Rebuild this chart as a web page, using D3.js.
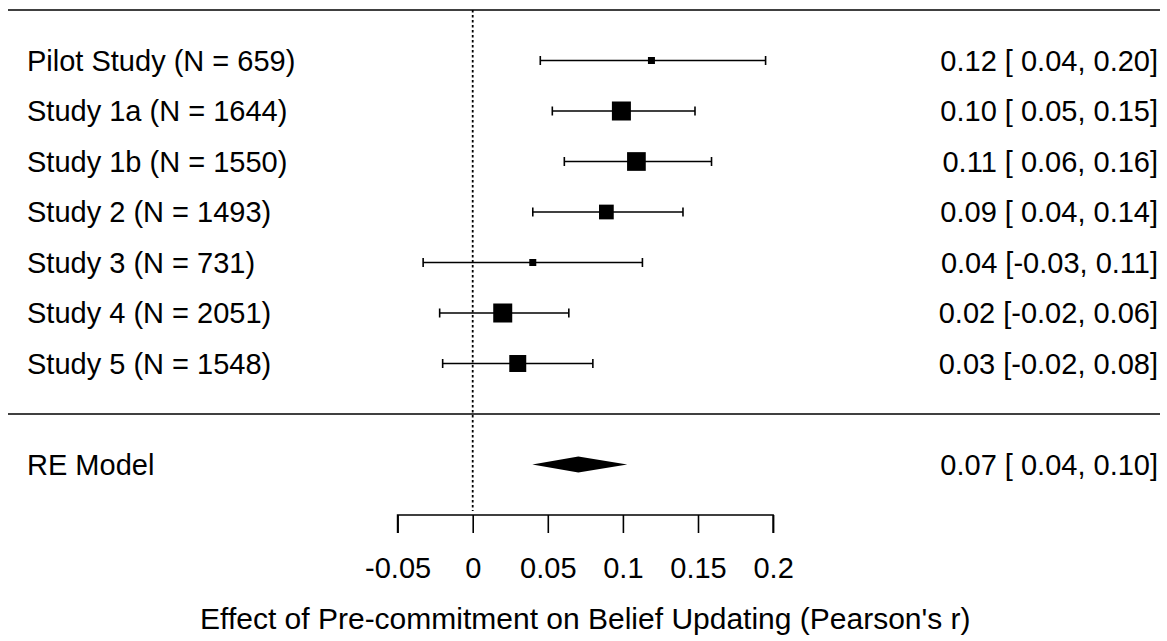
<!DOCTYPE html>
<html><head><meta charset="utf-8">
<script src="https://cdn.jsdelivr.net/npm/d3@7"></script>
<style>html,body{margin:0;padding:0;background:#fff;}text{font-family:"Liberation Sans",Arial,sans-serif;fill:#000;}</style>
</head><body><svg id="c" width="1167" height="641"></svg>
<script>
const studies = ["Pilot Study (N = 659)","Study 1a (N = 1644)","Study 1b (N = 1550)","Study 2 (N = 1493)","Study 3 (N = 731)","Study 4 (N = 2051)","Study 5 (N = 1548)"];
const estimates = [0.119, 0.099, 0.109, 0.089, 0.040, 0.020, 0.030];
const lowerCI = [0.045, 0.053, 0.061, 0.040, -0.033, -0.022, -0.020];
const upperCI = [0.195, 0.148, 0.159, 0.140, 0.113, 0.064, 0.080];
const weights = [6.8, 18.6, 18.3, 14.4, 6.8, 18.6, 16.6];
const estLabels = ["0.12 [ 0.04, 0.20]","0.10 [ 0.05, 0.15]","0.11 [ 0.06, 0.16]","0.09 [ 0.04, 0.14]","0.04 [-0.03, 0.11]","0.02 [-0.02, 0.06]","0.03 [-0.02, 0.08]"];
const reModel = {label: "RE Model", est: 0.0703, lower: 0.0397, upper: 0.1029, text: "0.07 [ 0.04, 0.10]"};
const xTicks = [-0.05, 0, 0.05, 0.1, 0.15, 0.2];
const xTickLabels = ["-0.05", "0", "0.05", "0.1", "0.15", "0.2"];
const xTitle = "Effect of Pre-commitment on Belief Updating (Pearson's r)";

const svg = d3.select("#c");
const FS = 29;
const LW = 1.6;
const x = d3.scaleLinear().domain([0, 0.2]).range([472.7, 773.1]);
const y = d3.scaleLinear().domain([-2, 8]).range([515, 10]);
const size = d3.scaleLinear().domain([d3.min(weights), d3.max(weights)]).range([7, 19]);
const k = studies.length;
const rows = studies.map((s,i)=>k - i);

// horizontal rules
svg.append("line").attr("x1",8).attr("x2",1160).attr("y1",y(k+1)).attr("y2",y(k+1)).attr("stroke","#000").attr("stroke-width",LW);
svg.append("line").attr("x1",8).attr("x2",1160).attr("y1",y(0)).attr("y2",y(0)).attr("stroke","#000").attr("stroke-width",LW);
// reference line
svg.append("line").attr("x1",x(0)).attr("x2",x(0)).attr("y1",y(k+1)).attr("y2",y(-2)-4).attr("stroke","#000").attr("stroke-width",1.8).attr("stroke-dasharray","2.5,2.5");

const g = svg.append("g");
studies.forEach((s,i)=>{
  const yy = y(rows[i]);
  g.append("line").attr("x1",x(lowerCI[i])).attr("x2",x(upperCI[i])).attr("y1",yy).attr("y2",yy).attr("stroke","#000").attr("stroke-width",LW);
  [lowerCI[i], upperCI[i]].forEach(v=>{
    g.append("line").attr("x1",x(v)).attr("x2",x(v)).attr("y1",yy-4.5).attr("y2",yy+4.5).attr("stroke","#000").attr("stroke-width",LW);
  });
  const sz = size(weights[i]);
  g.append("rect").attr("x",x(estimates[i])-sz/2).attr("y",yy-sz/2).attr("width",sz).attr("height",sz).attr("fill","#000");
  g.append("text").attr("x",27).attr("y",yy).attr("dy","0.35em").attr("font-size",FS).text(s);
  g.append("text").attr("x",1158).attr("y",yy).attr("dy","0.35em").attr("text-anchor","end").attr("font-size",FS).text(estLabels[i]);
});

// RE model diamond
const yr = y(-1);
svg.append("polygon").attr("points",[[x(reModel.lower),yr],[x(reModel.est),yr-8],[x(reModel.upper),yr],[x(reModel.est),yr+8]].map(p=>p.join(",")).join(" ")).attr("fill","#000");
svg.append("text").attr("x",27).attr("y",yr).attr("dy","0.35em").attr("font-size",FS).text(reModel.label);
svg.append("text").attr("x",1158).attr("y",yr).attr("dy","0.35em").attr("text-anchor","end").attr("font-size",FS).text(reModel.text);

// axis
const axis = d3.axisBottom(x).tickValues(xTicks).tickSize(18).tickPadding(24).tickFormat((d,i)=>xTickLabels[i]);
const ag = svg.append("g").attr("transform",`translate(0,${y(-2)})`).call(axis);
ag.select(".domain").attr("d",`M${x(-0.05)},18V0H${x(0.2)}V18`).attr("stroke-width",LW);
ag.selectAll(".tick line").attr("stroke-width",LW);
ag.selectAll(".tick text").attr("font-size",FS).attr("font-family","Liberation Sans, Arial, sans-serif").attr("fill","#000");
ag.attr("font-family",null).attr("font-size",null);

svg.append("text").attr("x",x(0.075)).attr("y",618).attr("dy","0.35em").attr("text-anchor","middle").attr("font-size",30).text(xTitle);
</script></body></html>
